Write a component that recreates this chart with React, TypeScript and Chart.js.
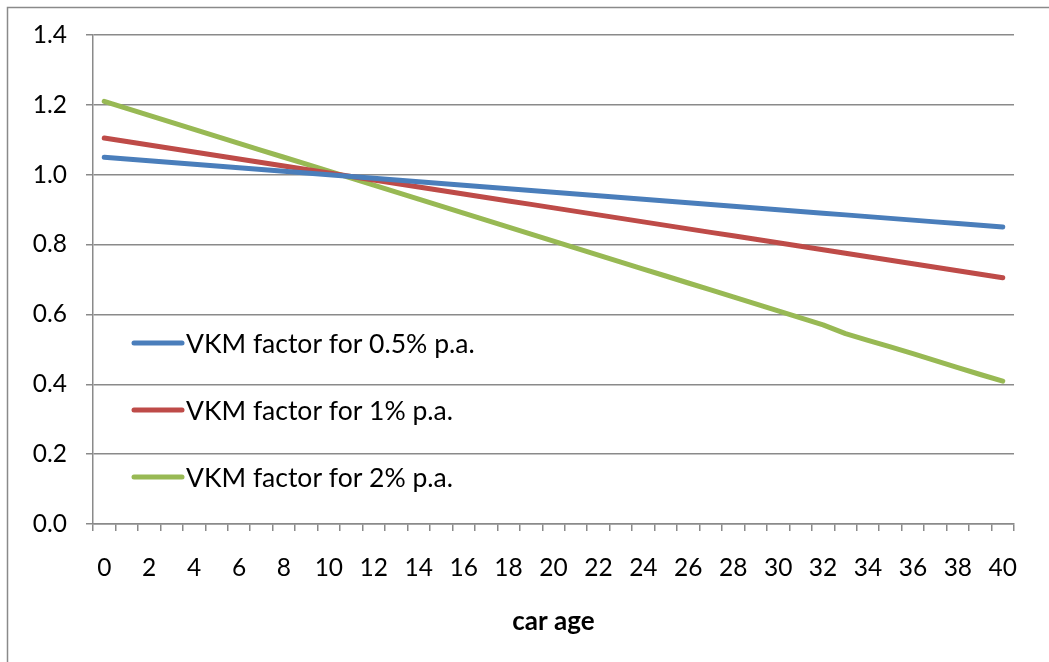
import React, { useEffect, useRef } from "react";
import { Chart, registerables } from "chart.js";

Chart.register(...registerables);

// Car age in years (categories 0..40)
const AGES = [
  "0", "1", "2", "3", "4", "5", "6", "7", "8", "9", "10",
  "11", "12", "13", "14", "15", "16", "17", "18", "19", "20",
  "21", "22", "23", "24", "25", "26", "27", "28", "29", "30",
  "31", "32", "33", "34", "35", "36", "37", "38", "39", "40",
];

// VKM factor for 0.5% p.a.
const VKM_05 = [
  1.05, 1.045, 1.04, 1.035, 1.03, 1.025, 1.02, 1.015, 1.01, 1.005, 1.0,
  0.995, 0.99, 0.985, 0.98, 0.975, 0.97, 0.965, 0.96, 0.955, 0.95,
  0.945, 0.94, 0.935, 0.93, 0.925, 0.92, 0.915, 0.91, 0.905, 0.9,
  0.895, 0.89, 0.885, 0.88, 0.875, 0.87, 0.865, 0.86, 0.855, 0.85,
];

// VKM factor for 1% p.a.
const VKM_1 = [
  1.105, 1.095, 1.085, 1.075, 1.065, 1.055, 1.045, 1.035, 1.025, 1.015, 1.005,
  0.995, 0.985, 0.975, 0.965, 0.955, 0.945, 0.935, 0.925, 0.915, 0.905,
  0.895, 0.885, 0.875, 0.865, 0.855, 0.845, 0.835, 0.825, 0.815, 0.805,
  0.795, 0.785, 0.775, 0.765, 0.755, 0.745, 0.735, 0.725, 0.715, 0.705,
];

// VKM factor for 2% p.a.
const VKM_2 = [
  1.21, 1.19, 1.17, 1.15, 1.13, 1.11, 1.09, 1.07, 1.05, 1.03, 1.01,
  0.99, 0.97, 0.95, 0.93, 0.91, 0.89, 0.87, 0.85, 0.83, 0.81,
  0.79, 0.77, 0.75, 0.73, 0.71, 0.69, 0.67, 0.65, 0.63, 0.61,
  0.59, 0.57, 0.545, 0.526, 0.507, 0.488, 0.468, 0.448, 0.428, 0.409,
];

const SERIES_LABELS = [
  "VKM factor for 0.5% p.a.",
  "VKM factor for 1% p.a.",
  "VKM factor for 2% p.a.",
];

const X_TITLE = "car age";

const COLORS = ["#4A7EBB", "#BE4B48", "#98B954"];
const GRID = "#8a8a8a";
const FONT = "Lato, 'Open Sans', sans-serif";

// Frame around the chart and a legend placed inside the plot area
const framePlugin = {
  id: "frame",
  beforeDraw(chart: any) {
    const ctx = chart.ctx;
    ctx.save();
    ctx.fillStyle = "#ffffff";
    ctx.fillRect(0, 0, chart.width, chart.height);
    ctx.strokeStyle = GRID;
    ctx.lineWidth = 1.5;
    ctx.beginPath();
    ctx.moveTo(7.5, chart.height + 5);
    ctx.lineTo(7.5, 7.5);
    ctx.lineTo(chart.width + 5, 7.5);
    ctx.stroke();
    ctx.restore();
  },
};

const insideLegendPlugin = {
  id: "insideLegend",
  afterDatasetsDraw(chart: any) {
    const ctx = chart.ctx;
    const area = chart.chartArea;
    const x0 = area.left + 41;
    const y0 = area.top + 308;
    const rowGap = 67;
    ctx.save();
    chart.data.datasets.forEach((ds: any, i: number) => {
      const y = y0 + i * rowGap;
      ctx.strokeStyle = ds.borderColor;
      ctx.lineWidth = 5;
      ctx.lineCap = "round";
      ctx.beginPath();
      ctx.moveTo(x0, y);
      ctx.lineTo(x0 + 48, y);
      ctx.stroke();
      ctx.fillStyle = "#000000";
      ctx.font = `26.5px ${FONT}`;
      ctx.textAlign = "left";
      ctx.textBaseline = "middle";
      ctx.fillText(ds.label, x0 + 52, y + 1);
    });
    ctx.restore();
  },
};

export default function App() {
  const canvasRef = useRef<HTMLCanvasElement | null>(null);

  useEffect(() => {
    if (!canvasRef.current) return;
    const values = [VKM_05, VKM_1, VKM_2];
    const chart = new Chart(canvasRef.current, {
      type: "line",
      data: {
        labels: AGES,
        datasets: values.map((v, i) => ({
          label: SERIES_LABELS[i],
          data: v,
          borderColor: COLORS[i],
          backgroundColor: COLORS[i],
          borderWidth: 5,
          pointRadius: 0,
          pointHoverRadius: 0,
          tension: 0,
          borderCapStyle: "round",
          borderJoinStyle: "round",
          fill: false,
        })),
      },
      options: {
        responsive: false,
        animation: false,
        layout: { padding: { left: 0, top: 35, right: 35, bottom: 0 } },
        plugins: {
          legend: { display: false },
          tooltip: { enabled: false },
          title: { display: false },
        },
        scales: {
          x: {
            type: "category",
            offset: true,
            grid: {
              offset: true,
              drawOnChartArea: false,
              drawTicks: true,
              tickLength: 7,
              color: GRID,
              lineWidth: 1.5,
            },
            border: { display: true, color: GRID, width: 1.5 },
            ticks: {
              autoSkip: false,
              maxRotation: 0,
              minRotation: 0,
              padding: 22,
              color: "#000000",
              font: { family: FONT, size: 24.5 },
              callback: (_v: any, idx: number) => (idx % 2 === 0 ? AGES[idx] : ""),
            },
            title: {
              display: true,
              text: X_TITLE,
              color: "#000000",
              font: { family: FONT, size: 26, weight: "bold" },
              padding: { top: 0, bottom: 25 },
            },
            afterFit: (scale: any) => {
              scale.height = 138;
            },
          },
          y: {
            min: 0,
            max: 1.4,
            grid: {
              color: GRID,
              lineWidth: 1.5,
              tickLength: 7,
            },
            border: { display: true, color: GRID, width: 1.5 },
            ticks: {
              stepSize: 0.2,
              padding: 19,
              color: "#000000",
              font: { family: FONT, size: 24.5 },
              callback: (v: any) => Number(v).toFixed(1),
            },
            afterFit: (scale: any) => {
              scale.width = 93;
            },
          },
        },
      },
      plugins: [framePlugin, insideLegendPlugin],
    });
    return () => chart.destroy();
  }, []);

  return (
    <div style={{ position: "absolute", left: 0, top: 0, width: 1049, height: 662 }}>
      <canvas ref={canvasRef} width={1049} height={662} style={{ display: "block" }} />
    </div>
  );
}
